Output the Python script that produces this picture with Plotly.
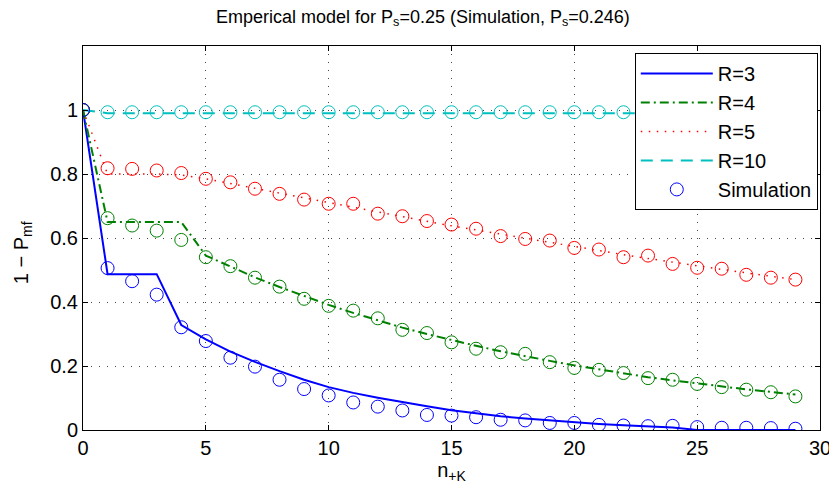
import plotly.graph_objects as go

n = list(range(30))

# model curves
r3_model = [1.0, 0.487, 0.487, 0.487, 0.328, 0.283, 0.245, 0.213, 0.184, 0.157, 0.134,
            0.116, 0.101, 0.087, 0.074, 0.062, 0.052, 0.043, 0.036, 0.030, 0.024,
            0.019, 0.015, 0.011, 0.008, 0.0, 0.0, 0.0, 0.0, 0.0]
r4_model = [1.0, 0.65, 0.65, 0.65, 0.65, 0.545, 0.51, 0.477, 0.447, 0.418, 0.391,
            0.366, 0.342, 0.320, 0.300, 0.281, 0.263, 0.246, 0.230, 0.216, 0.202,
            0.189, 0.177, 0.165, 0.155, 0.145, 0.136, 0.127, 0.119, 0.111]
r5_model = [1.0, 0.80, 0.80, 0.80, 0.797, 0.785, 0.770, 0.755, 0.740, 0.725, 0.710,
            0.695, 0.680, 0.666, 0.652, 0.638, 0.625, 0.611, 0.598, 0.585, 0.572,
            0.560, 0.548, 0.536, 0.524, 0.513, 0.502, 0.491, 0.480, 0.470]
r10_model = [1.0] + [0.99] * 29

# simulation points
r3_sim = [1.0, 0.506, 0.465, 0.423, 0.321, 0.278, 0.226, 0.198, 0.157, 0.128, 0.108,
          0.086, 0.073, 0.061, 0.047, 0.045, 0.040, 0.032, 0.030, 0.022, 0.022,
          0.016, 0.014, 0.012, 0.013, 0.009, 0.007, 0.007, 0.006, 0.004]
r4_sim = [1.0, 0.662, 0.639, 0.623, 0.594, 0.540, 0.512, 0.476, 0.448, 0.410, 0.388,
          0.373, 0.349, 0.313, 0.303, 0.274, 0.254, 0.243, 0.238, 0.212, 0.194,
          0.188, 0.178, 0.162, 0.157, 0.144, 0.134, 0.126, 0.118, 0.105]
r5_sim = [1.0, 0.818, 0.816, 0.811, 0.803, 0.785, 0.774, 0.754, 0.738, 0.720, 0.707,
          0.707, 0.676, 0.668, 0.653, 0.642, 0.629, 0.606, 0.597, 0.592, 0.569,
          0.564, 0.540, 0.545, 0.519, 0.507, 0.504, 0.485, 0.476, 0.470]
r10_sim = [1.0] + [0.993] * 29

x_ticks = [0, 5, 10, 15, 20, 25, 30]
y_ticks = [0, 0.2, 0.4, 0.6, 0.8, 1.0]
y_tick_text = ["0", "0.2", "0.4", "0.6", "0.8", "1"]

BLUE = "#0000FF"
GREEN = "#008000"
RED = "#FF0000"
CYAN = "#00BFBF"

FONT = "Liberation Sans, Arial, sans-serif"

fig = go.Figure()

# simulation markers for other R (not in legend)
for ys, col in [(r10_sim, CYAN), (r5_sim, RED), (r4_sim, GREEN)]:
    fig.add_trace(go.Scatter(x=n, y=ys, mode="markers", showlegend=False,
                             marker=dict(symbol="circle-open", size=13, color=col,
                                         line=dict(width=1, color=col))))

fig.add_trace(go.Scatter(x=n, y=r3_model, mode="lines", name="R=3", legendgroup="g1",
                         legendrank=1, line=dict(color=BLUE, width=2)))
fig.add_trace(go.Scatter(x=n, y=r4_model, mode="lines", name="R=4", legendgroup="g2",
                         legendrank=2, line=dict(color=GREEN, width=2, dash="9px,4px,2px,4px")))
fig.add_trace(go.Scatter(x=n, y=r5_model, mode="lines", name="R=5", legendgroup="g3",
                         legendrank=3, line=dict(color=RED, width=1.5, dash="1.5px,6.5px")))
fig.add_trace(go.Scatter(x=n, y=r10_model, mode="lines", name="R=10", legendgroup="g4",
                         legendrank=4, line=dict(color=CYAN, width=2, dash="12px,8px")))
fig.add_trace(go.Scatter(x=n, y=r3_sim, mode="markers", name="Simulation", legendgroup="g5",
                         legendrank=5,
                         marker=dict(symbol="circle-open", size=13, color=BLUE,
                                     line=dict(width=1, color=BLUE))))

axis_common = dict(showline=True, linecolor="black", linewidth=1, mirror="ticks",
                   ticks="inside", ticklen=5, tickcolor="black", zeroline=False,
                   automargin=False, ticklabeloverflow="allow",
                   showgrid=True, gridcolor="#444444", gridwidth=1, griddash="1px,7px",
                   tickfont=dict(family=FONT, size=20, color="black"))

fig.update_layout(
    width=829, height=488,
    margin=dict(l=75, r=17, t=38, b=66),
    paper_bgcolor="white", plot_bgcolor="white",
    font=dict(family=FONT, size=20, color="black"),
    title=dict(text="Emperical model for P<sub>s</sub>=0.25 (Simulation, P<sub>s</sub>=0.246)",
               x=0.5005, xanchor="center", y=0.996, yanchor="top", pad=dict(t=0, b=0),
               font=dict(family=FONT, size=18, color="black")),
    xaxis=dict(range=[0, 30], tickvals=x_ticks,
               title=dict(text="n<sub>+K</sub>", standoff=0,
                          font=dict(family=FONT, size=20)), **axis_common),
    yaxis=dict(range=[0, 1.2], tickvals=y_ticks, ticktext=y_tick_text, **axis_common),
    annotations=[dict(text="1 − P<sub>mf</sub>", textangle=-90, showarrow=False,
                      xref="paper", yref="paper", x=-0.082, y=0.462,
                      xanchor="center", yanchor="middle",
                      font=dict(family=FONT, size=20, color="black"))],
    legend=dict(x=0.997, xanchor="right", y=0.982, yanchor="top",
                bgcolor="white", bordercolor="black", borderwidth=1,
                font=dict(family=FONT, size=20, color="black"),
                tracegroupgap=0, itemwidth=72,
                traceorder="grouped"),
)

fig.write_html("out.html")
